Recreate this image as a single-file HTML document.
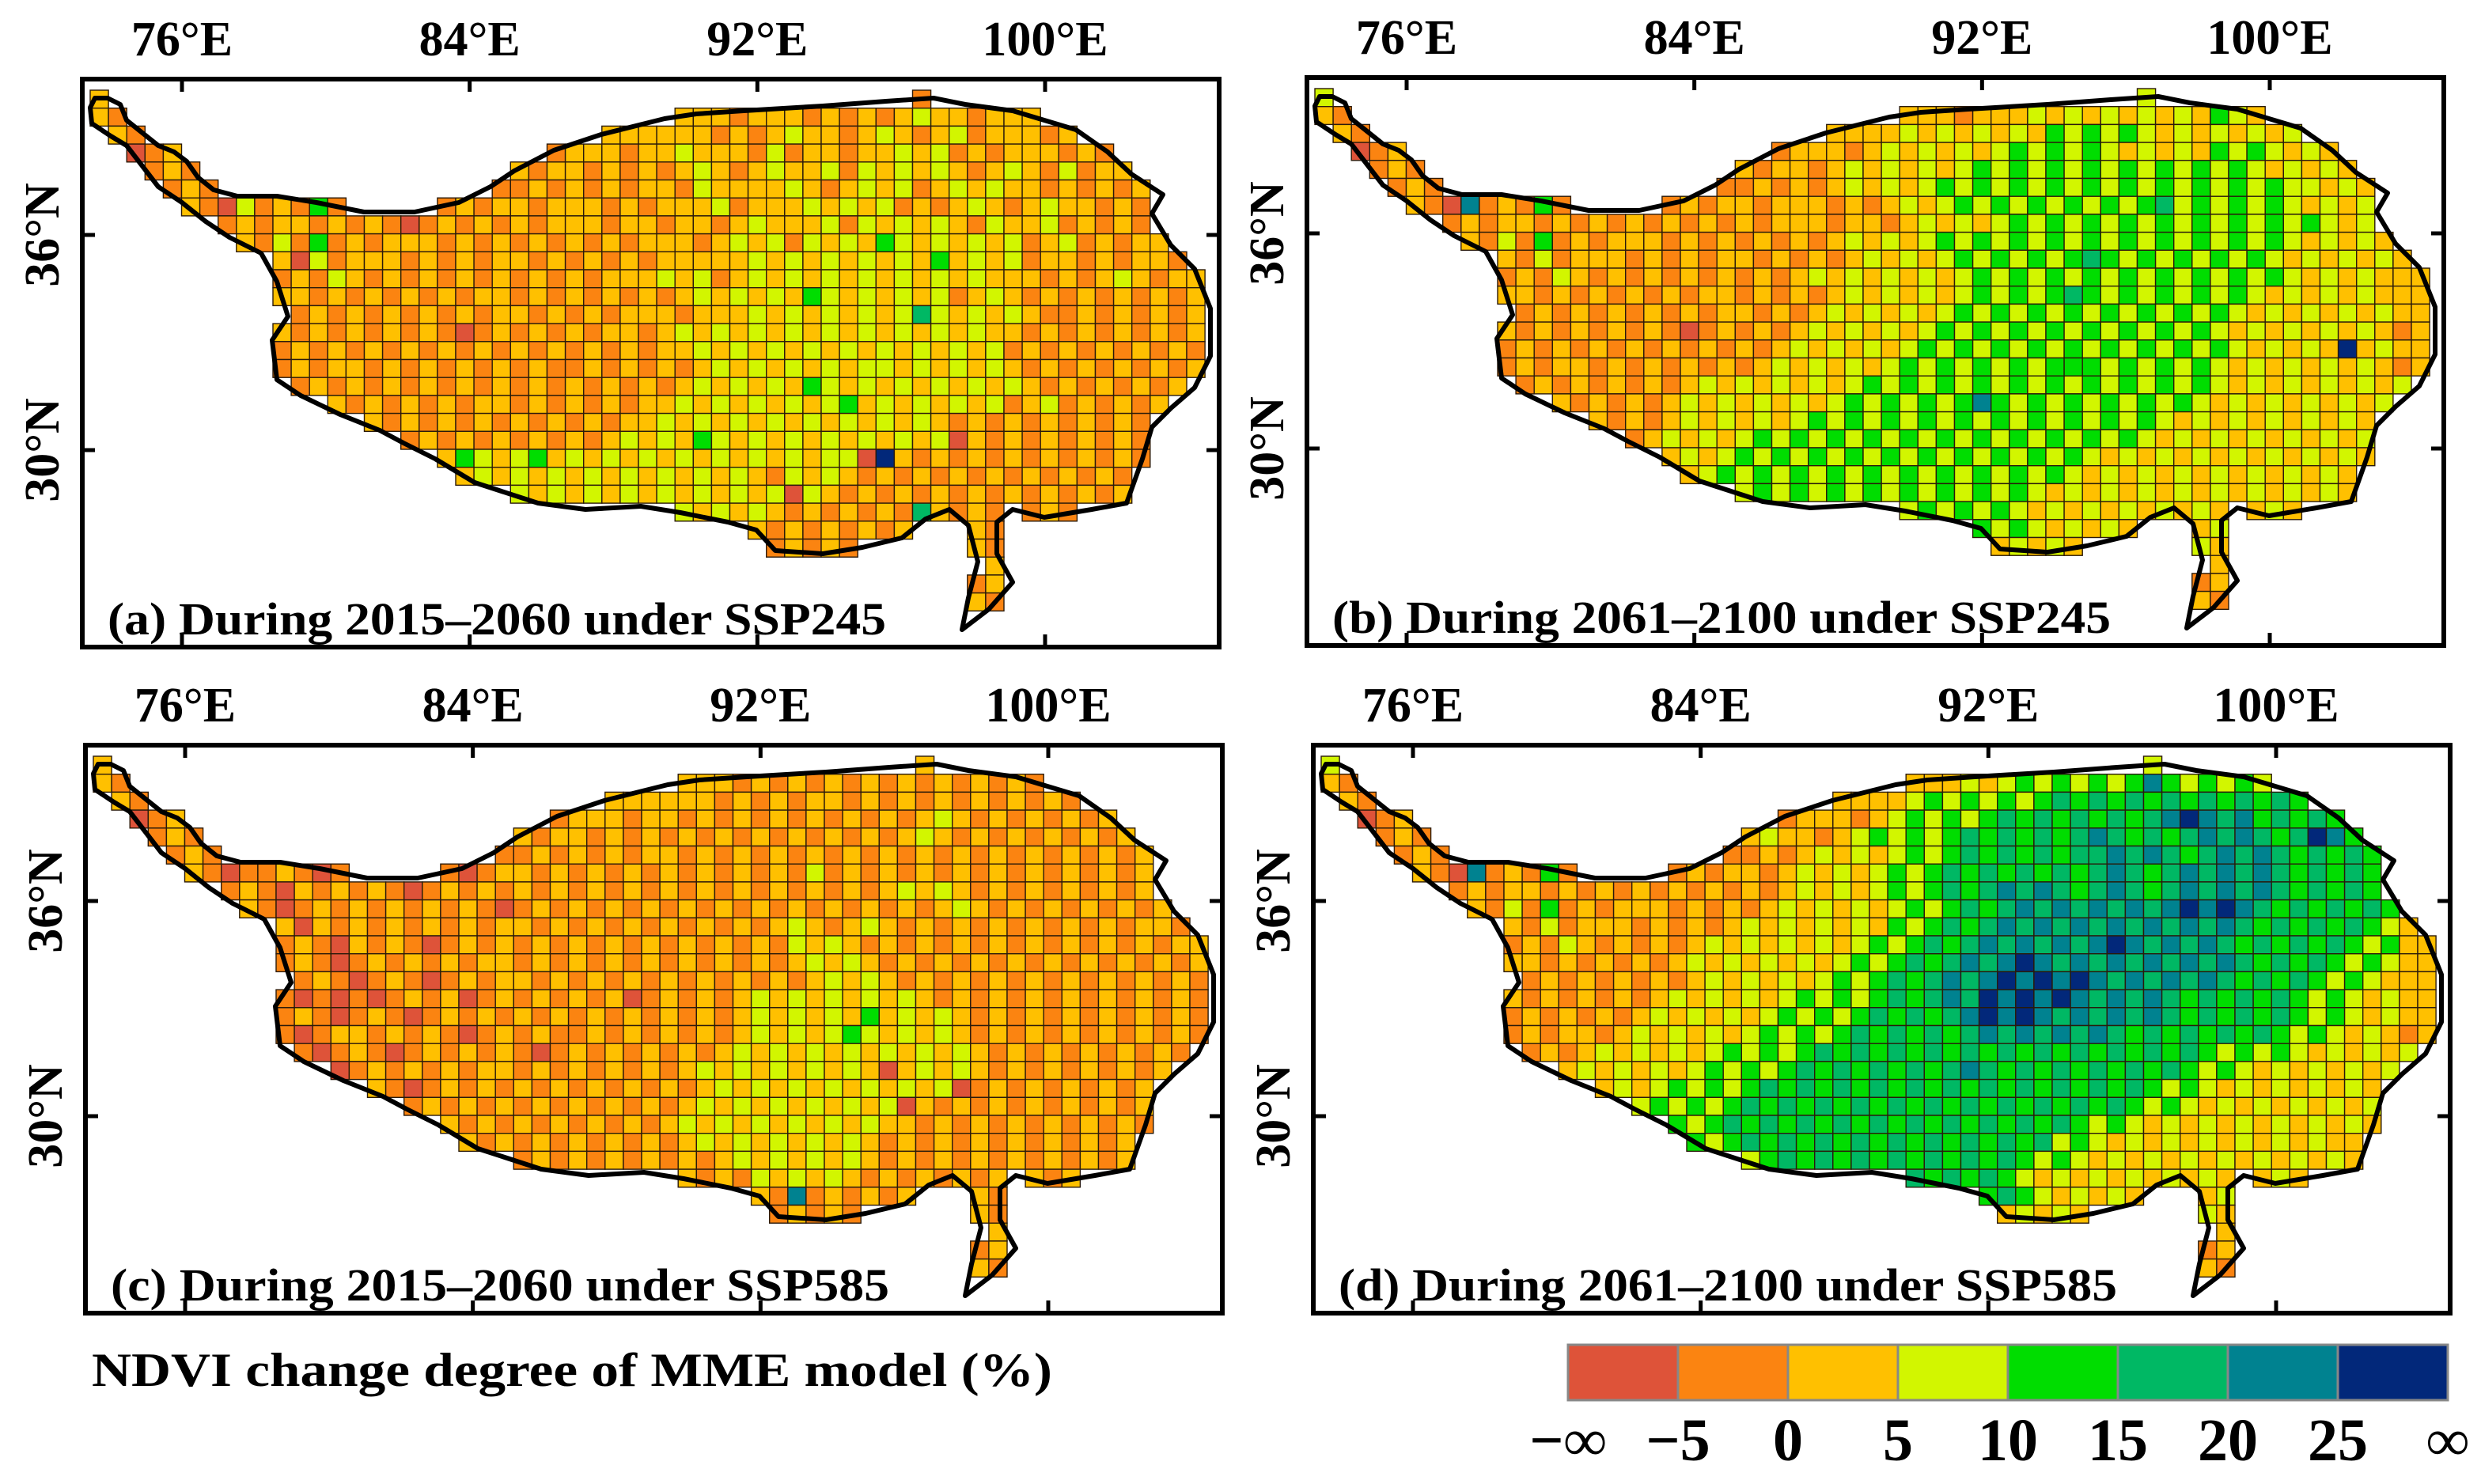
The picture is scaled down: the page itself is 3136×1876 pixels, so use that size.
<!DOCTYPE html>
<html><head><meta charset="utf-8"><style>
html,body{margin:0;padding:0;background:#fff;}
svg{display:block;}
text{font-family:"Liberation Serif",serif;font-weight:bold;fill:#000;}
</style></head><body>
<svg id="chart" width="3136" height="1876" viewBox="0 0 3136 1876" xmlns="http://www.w3.org/2000/svg">
<g id="panels"></g>
<text x="116" y="1752" font-size="60" textLength="1214" lengthAdjust="spacingAndGlyphs">NDVI change degree of MME model (%)</text>
<g id="colorbar"></g>
</svg>
<script>
// ---- data ----
const classColors = ["#de5339","#fb8411","#ffc000","#d2f600","#00dd00","#00b864","#008290","#02287a"];
const colorbarLabels = ["\u2212\u221e","\u22125","0","5","10","15","20","25","\u221e"];
const lonTicks = ["76°E","84°E","92°E","100°E"];
const latTicks = ["36°N","30°N"];
const panelTitles = ["(a) During 2015\u20132060 under SSP245","(b) During 2061\u20132100 under SSP245","(c) During 2015\u20132060 under SSP585","(d) During 2061\u20132100 under SSP585"];
const gridA = [
"2211222222222222222222222222222222222222222121222202222222222222",
"2112112122222222222222222222222222212221212123221222212222222222",
"1210121212212222222222222222222222121232212321231222121222222222",
"2101221212121222212221212122212232221312212232312122212122122222",
"2211212121212121221212121221212123212322313232321232131221222222",
"2221121212131212121212112121212213222232123231232322121212122222",
"2222221031214121212121221222121222312223232312123212322121212222",
"2222222121221212101212121222122122123222313232321322312121212222",
"2222222221314121222121212121212221232313232432323231231212222222",
"2222222221203122212121221212121222223232323232423231221212212222",
"2222222222121321212121212121222323123232323232323222121232122222",
"2222222222221212121212212121212123232324323232312321212121212222",
"2222222222212121212121221212122212223232323235323232112121212122",
"2222222222212121212101212121221232323232323232323221212121212122",
"2222222222121212121212121212121223232323232323232312121212121222",
"2222222222121221212121212112121212323232323323232321212121212122",
"2222222222112121212121212121212123232324323232323232121212121212",
"2222222222121212121212212121212232323232342323232312312121212122",
"2222222222221212121212121212122323232323232323212121212121212122",
"2222222222222121212121212121232324323232323232302121212121212122",
"2222222222222212121243234232323232323232330721212121212121212122",
"2222222222222221212123232323232323232132321212121212121212122222",
"2222222222222222212123232323232323232303212121212121212122222222",
"2222222222222222222232323232323232323212121215212121212222222222",
"2222222222222222222223232323232323232121212121612121212222222222",
"2222222222222222222222223232323232327121212121212121212222222222",
"2222222222222222222222222222222222221212121212121212122222222222",
"2222222222222222222222222222222222222222222222121212222222222222",
"2222222222222222222222222222222222222222222221112122222222222222",
"2222222222222222222222222222222222222222222220111222222222222222",
"2222222222222222222222222222222222222222222221112222222222222222"];
const gridB = [
"3211222222222222222222222222222222222222232323232303232323222222",
"2112112122222222222222222222222222212223232323232432323232322222",
"1210121212212222222222222222222232323232434343232323232323222222",
"2101221212121222212221212122212323232343434323232434323232322222",
"2211212121213121221212121221232323234343434343434343232323222222",
"2221121212131212121212112121232323434343434343434343433232322222",
"2222221061214121212121221222121232343434343434534343432323232222",
"2222222121221212121212121222122123232343434343434343434323232222",
"2222222221314121222121212121232323434343434343434343432323232222",
"2222222221213122212121221212123232343434345434343434323232322222",
"2222222222121321212121212123232323234343434343434343432323222222",
"2222222222221212121212212121232323234343454343434343232323222222",
"2222222222212121212121221212323232343434343434343432323232322222",
"2222222222212121212101212123232323434343434343434323232323212222",
"2222222222121212121212121232323234343434343434343432323272322222",
"2222222222121221212121212323232343434343444343434323232323212222",
"2222222222112121212123232323234343434343434343434323232323232222",
"2222222222121212121232323232343434346434343434343232323232322222",
"2222222222221212121232323234343434343434343434323232323232322222",
"2222222222222121212323234343434343434343434343232323232323222222",
"2222222222222212123232343434343434343434343232323232323232222222",
"2222222222222221232323434343434343434343432323232323232322222222",
"2222222222222222232323434343434343434343232323232323232322222222",
"2222222222222222222232323434343434343432323232323232322222222222",
"2222222222222222222223232343434343434343232323232323222222222222",
"2222222222222222222222223232323434347232323232323232222222222222",
"2222222222222222222222222222222222227212121212121212122222222222",
"2222222222222222222222222222222222222222222222121212222222222222",
"2222222222222222222222222222222222222222222221112122222222222222",
"2222222222222222222222222222222222222222222220111222222222222222",
"2222222222222222222222222222222222222222222221112222222222222222"];
const gridC = [
"2211222222222222222222222222222222222222221212121202121212222222",
"2110112122222222222222222222222222212121212121212121212121222222",
"1210101212212222222222222222222222121212212121212121212121222222",
"2101210212121222212221212122212212121212121212321212121212122222",
"2211210121212121221212121221212121212121212123212121212121222222",
"2221121012121212121212112121212212121212121212121212121212122222",
"2222221011210121212101221212121212121213121212121212121212212222",
"2222222121021212101212121212121212121212121232321212121212212222",
"2222222221012121212121012121212121212121212121232121212121222222",
"2222222221202121212121221212121212121232123212121212121212212222",
"2222222222121021210121212121212121212132321212121212121212122222",
"2222222222121012121212212121212121212123232121212121212121212222",
"2222222222012101210121221212121212121212323212121212121212121222",
"2222222222101010121201212121201212123232323232121212121212121122",
"2222222222121012101212121212121212123232324232321212121212121222",
"2222222222101221212101212112121212123232343232321212121212121122",
"2222222222010121012121210121212121232323232323232121212121212112",
"2222222222121012121212212121212123232323232023232121212121212122",
"2222222222221212101212121212121212323232323232301212121212121122",
"2222222222222101212121212121212123232323232302121212121212121122",
"2222222222222210121212121212121232323232323221212121212121212122",
"2222222222222221012121212121212123232323232121212121212121212222",
"2222222222222222210121212121212121232323232121212121212121222222",
"2222222222222222222121212121212121213232321212121212121222222222",
"2222222222222222222221212121212121212161212121212121212222222222",
"2222222222222222222222212121212121212121212121212121212222222222",
"2222222222222222222222222222222222221212121212121212122222222222",
"2222222222222222222222222222222222222222222222121212222222222222",
"2222222222222222222222222222222222222222222221112122222222222222",
"2222222222222222222222222222222222222222222220111222222222222222",
"2222222222222222222222222222222222222222222221112222222222222222"];
const gridD = [
"3211222222222222222222222222222222222222232323234323232323222222",
"2113112122222222222222222222222222232343434346434343434343222222",
"1210121212212222222222222222222234343434545454545454545454322222",
"2101231212121222212221212122212343434545454545676564545454322222",
"2211212321213121221212123221234343454545456545456565457643222222",
"2221121212131212121212112123232343454545455656545656545454342222",
"2222221061214121212121221232323434545454545654565656545454342222",
"2222222121221212121212121232323434545656545654565656545454342222",
"2222222221314121222121212323232343454565656565676765454545432222",
"2222222221213122212121232323232434545656565656565654545454322222",
"2222222222121321212123232323234345456565656765656545454543422222",
"2222222222221212121232323232343454565676565656565654545434322222",
"2222222222212121212123232323434545656767676565656545454343222222",
"2222222222212121212323232343434545657676765656545454543432322222",
"2222222222121212123232323434345454567676565656545454543432322222",
"2222222222121221232323234343454545456565656545454545434323212222",
"2222222222112123232323434345454545454545454545454343432323232222",
"2222222222121232323234343454545454565454545454543432323232322222",
"2222222222221232323434345454545454545454545454343232323232322222",
"2222222222222123234343454545454545454545454543432323232323222222",
"2222222222222212343434545454545454545454543432323232323232222222",
"2222222222222221234343454545454545454545343232323232323222222222",
"2222222222222222232343434545454545454543432323232323232322222222",
"2222222222222222222234343434345454545432323232323232322222222222",
"2222222222222222222223234343434345454543232323232323222222222222",
"2222222222222222222222223232323434347232323232323232222222222222",
"2222222222222222222222222222222222226212121212121212122222222222",
"2222222222222222222222222222222222222222222222121212222222222222",
"2222222222222222222222222222222222222222222221112122222222222222",
"2222222222222222222222222222222222222222222220111222222222222222",
"2222222222222222222222222222222222222222222221112222222222222222"];
const grids = [gridA, gridB, gridC, gridD];

// ---- geometry ----
const NS = "http://www.w3.org/2000/svg";
const outline = [[57,68],[60,62],[68,62],[76,66],[80,76],[90,84],[100,92],[110,96],[118,102],[125,112],[135,120],[150,124],[175,124],[200,128],[230,134],[262,134],[290,128],[310,118],[325,108],[350,95],[380,85],[420,75],[440,72],[470,70],[520,67],[560,64],[590,62],[610,66],[640,70],[680,82],[700,96],[715,110],[735,123],[728,135],[740,155],[755,170],[765,195],[765,225],[755,245],[740,258],[728,270],[722,290],[712,318],[690,322],[660,327],[640,322],[630,330],[630,350],[640,368],[625,385],[608,398],[612,378],[618,355],[612,332],[600,322],[585,328],[570,340],[545,346],[520,350],[490,348],[478,335],[460,330],[430,324],[405,320],[370,322],[340,318],[300,305],[275,290],[255,280],[240,272],[215,262],[190,250],[175,240],[172,215],[182,200],[175,178],[165,160],[145,150],[130,140],[115,128],[100,118],[90,105],[80,92],[70,86],[58,78]].map(p=>[p[0]*2,p[1]*2]);
const offsets = [[0,0],[1548,-2],[4,842],[1556,842]];
const frameA = {x:104,y:100,w:1437,h:718};
const lonToX = lon => 230 + (lon-76)*(1321-230)/24;
const latToY = lat => 297 + (36-lat)*(569-297)/6;
const cellW = 23.1, cellH = 22.7, gx0 = 114, gy0 = 114;

function inside(x,y,poly){let c=false;for(let i=0,j=poly.length-1;i<poly.length;j=i++){const [xi,yi]=poly[i],[xj,yj]=poly[j];if(((yi>y)!=(yj>y))&&(x<(xj-xi)*(y-yi)/(yj-yi)+xi))c=!c;}return c;}

const panelsG = document.getElementById('panels');
grids.forEach((grid,pi)=>{
  const [ox,oy]=offsets[pi];
  const g=document.createElementNS(NS,'g');
  g.setAttribute('transform',`translate(${ox},${oy})`);
  
  
  panelsG.appendChild(g);
  lonTicks.forEach((t,i)=>{
    const tx=document.createElementNS(NS,'text');
    tx.setAttribute('x',lonToX(76+8*i));tx.setAttribute('y',70);
    tx.setAttribute('font-size','62');tx.setAttribute('text-anchor','middle');
    tx.textContent=t;
    
    
    g.appendChild(tx);
  });
  latTicks.forEach((t,i)=>{
    const y=latToY(36-6*i);
    const tx=document.createElementNS(NS,'text');
    tx.setAttribute('transform',`translate(74,${y}) rotate(-90)`);
    tx.setAttribute('font-size','62');tx.setAttribute('text-anchor','middle');
    tx.textContent=t;
    
    
    g.appendChild(tx);
  });
  const cg=document.createElementNS(NS,'g');
  
  
  g.appendChild(cg);
  for(let r=0;r<31;r++){
    const row=grid[r]||"";
    for(let c=0;c<62;c++){
      const x=gx0+c*cellW,y=gy0+r*cellH;
      if(!inside(x+cellW/2,y+cellH/2,outline))continue;
      const k=parseInt(row.charAt(c)||'2');
      const rc=document.createElementNS(NS,'rect');
      rc.setAttribute('x',x.toFixed(1));rc.setAttribute('y',y.toFixed(1));
      rc.setAttribute('width',cellW.toFixed(1));rc.setAttribute('height',cellH.toFixed(1));
      rc.setAttribute('fill',classColors[k]);rc.setAttribute('stroke','#2a1a0a');rc.setAttribute('stroke-width','1.4');
      
      
      cg.appendChild(rc);
    }
  }
  const pl=document.createElementNS(NS,'polygon');
  pl.setAttribute('points',outline.map(p=>p.join(',')).join(' '));
  pl.setAttribute('fill','none');pl.setAttribute('stroke','#000');pl.setAttribute('stroke-width','6');pl.setAttribute('stroke-linejoin','round');
  
  
  g.appendChild(pl);
  const fr=document.createElementNS(NS,'rect');
  fr.setAttribute('x',frameA.x);fr.setAttribute('y',frameA.y);fr.setAttribute('width',frameA.w);fr.setAttribute('height',frameA.h);
  fr.setAttribute('fill','none');fr.setAttribute('stroke','#000');fr.setAttribute('stroke-width','6');
  
  
  g.appendChild(fr);
  let tk="";
  lonTicks.forEach((t,i)=>{const x=lonToX(76+8*i);tk+=`M${x},${frameA.y}v16M${x},${frameA.y+frameA.h}v-16`;});
  latTicks.forEach((t,i)=>{const y=latToY(36-6*i);tk+=`M${frameA.x},${y}h16M${frameA.x+frameA.w},${y}h-16`;});
  const tp=document.createElementNS(NS,'path');
  tp.setAttribute('d',tk);tp.setAttribute('stroke','#000');tp.setAttribute('stroke-width','5');
  
  
  g.appendChild(tp);
  const tt=document.createElementNS(NS,'text');
  tt.setAttribute('x',136);tt.setAttribute('y',802);tt.setAttribute('font-size','58');
  tt.setAttribute('textLength','984');tt.setAttribute('lengthAdjust','spacingAndGlyphs');
  tt.textContent=panelTitles[pi];
  
  
  g.appendChild(tt);
});

const cb=document.getElementById('colorbar');
const cbX=1982, cbY=1700, cbW=139, cbH=70;
classColors.forEach((col,i)=>{
  const r=document.createElementNS(NS,'rect');
  r.setAttribute('x',cbX+i*cbW);r.setAttribute('y',cbY);r.setAttribute('width',cbW);r.setAttribute('height',cbH);
  r.setAttribute('fill',col);r.setAttribute('stroke','#888');r.setAttribute('stroke-width','3');
  
  
  cb.appendChild(r);
});
colorbarLabels.forEach((t,i)=>{
  const tx=document.createElementNS(NS,'text');
  tx.setAttribute('x',cbX+i*cbW);tx.setAttribute('y',1846);
  tx.setAttribute('font-size','76');tx.setAttribute('text-anchor','middle');
  tx.textContent=t;
  
  
  cb.appendChild(tx);
});
</script>
</body></html>
